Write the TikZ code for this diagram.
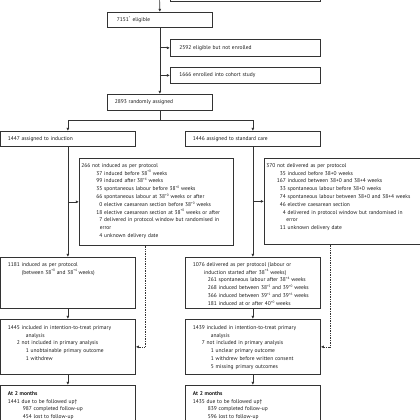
\documentclass[tikz,border=0pt]{standalone}
\usepackage{fontspec}
\setmainfont{PT Sans}
\usepackage{tikz}
\usetikzlibrary{positioning}
\usetikzlibrary{arrows.meta}

\newcommand{\sem}[1]{\raisebox{0.85ex}{\fontsize{3.4}{4}\selectfont #1}}
\newcommand{\cifra}[2]{\makebox[#1][r]{#2}\ }

\tikzset{
  caja/.style={draw=black!80, line width=0.7pt, anchor=north west, inner xsep=7.5pt, inner ysep=0pt, align=left, text=black!90, font=\fontsize{5.5}{7.8}\selectfont},
  lateral/.style={caja, inner xsep=2pt},
  arriba/.style={text height=9pt, text depth=#1},
  flecha/.style={-{Latex[length=3.2pt,width=3pt]}, draw=black!80, line width=0.7pt},
  punteada/.style={flecha, densely dotted}
}

\begin{document}
\begin{tikzpicture}[x=1pt, y=-1pt]
\useasboundingbox (0,0) rectangle (420,420);
\clip (0,0) rectangle (420,420);

% Cribado
\coordinate (entrada) at (159.5,-6);
\node[caja, text width=135pt, minimum height=30pt] (previo) at (170,-29) {};
\node[caja, text width=90pt, minimum height=15pt] (n7151) at (107,12) {\hspace*{2pt}7151\textsuperscript{*} eligible};
\node[caja, text width=135pt, minimum height=17pt] (n2592) at (170,39) {\hspace*{1.5pt}2592 eligible but not enrolled};
\node[caja, text width=135pt, minimum height=16pt] (n1666) at (170,67) {\hspace*{1.5pt}1666 enrolled into cohort study};
\node[caja, text width=90pt, minimum height=16pt] (n2893) at (107,94) {2893 randomly assigned};

\draw[flecha] (entrada) -- (n7151.north);
\draw[flecha] (n7151.south) -- (n2893.north);
\draw[flecha] (n7151.south |- n2592.west) -- (n2592.west);
\draw[flecha] (n7151.south |- n1666.west) -- (n1666.west);

% Asignacion
\node[caja, text width=120pt, minimum height=15pt] (n1447) at (0,131) {1447 assigned to induction};
\node[caja, text width=120pt, minimum height=15pt] (n1446) at (185,131) {1446 assigned to standard care};

\coordinate (reparto) at ([yshift=-10pt]n2893.south);
\draw[draw=black!80, line width=0.7pt] (n2893.south) -- (reparto);
\draw[flecha] (reparto) -| (n1447.north);
\draw[flecha] (reparto) -| (n1446.north);

% No segun protocolo
\node[lateral, text width=150pt, arriba=78pt] (n266) at (79,158) {266 not induced as per protocol\\
\cifra{21pt}{37}induced before 38\sem{+0} weeks\\
\cifra{21pt}{99}induced after 38\sem{+4} weeks\\
\cifra{21pt}{35}spontaneous labour before 38\sem{+0} weeks\\
\cifra{21pt}{66}spontaneous labour at 38\sem{+0} weeks or after\\
\cifra{21pt}{0}elective caesarean section before 38\sem{+0} weeks\\
\cifra{21pt}{18}elective caesarean section at 38\sem{+0} weeks or after\\
\cifra{21pt}{7}delivered in protocol window but randomised in\\
\hspace*{18.5pt}error\\
\cifra{21pt}{4}unknown delivery date};

\node[lateral, text width=157pt, arriba=77pt] (n370) at (264,158) {370 not delivered as per protocol\\
\cifra{19.5pt}{35}induced before 38+0 weeks\\
\cifra{19.5pt}{167}induced between 38+0 and 38+4 weeks\\
\cifra{19.5pt}{33}spontaneous labour before 38+0 weeks\\
\cifra{19.5pt}{74}spontaneous labour between 38+0 and 38+4 weeks\\
\cifra{19.5pt}{46}elective caesarean section\\
\cifra{19.5pt}{4}delivered in protocol window but randomised in\\
\hspace*{20pt}error\\
\cifra{19.5pt}{11}unknown delivery date};

\draw[flecha] (n1447.south |- n266.west) -- (n266.west);
\draw[flecha] (n1446.south |- n370.west) -- (n370.west);

% Segun protocolo
\node[caja, text width=120pt, arriba=42pt] (n1181) at (0,257) {1181 induced as per protocol\\
\hspace*{14pt}(between 38\sem{+0} and 38\sem{+4} weeks)};

\node[caja, text width=120pt, arriba=42pt] (n1076) at (185,257) {1076 delivered as per protocol (labour or\\
\hspace*{11pt}induction started after 38\sem{+4} weeks)\\
\cifra{24pt}{261}spontaneous labour after 38\sem{+4} weeks\\
\cifra{24pt}{268}induced between 38\sem{+5} and 39\sem{+0} weeks\\
\cifra{24pt}{366}induced between 39\sem{+1} and 39\sem{+6} weeks\\
\cifra{24pt}{181}induced at or after 40\sem{+0} weeks};

\draw[flecha] (n1447.south) -- (n1181.north);
\draw[flecha] (n1446.south) -- (n1076.north);

% Analisis
\node[caja, text width=120pt, arriba=45pt, text height=10pt] (n1445) at (0,319) {1445 included in intention-to-treat primary\\
\hspace*{18pt}analysis\\
\cifra{12pt}{2}not included in primary analysis\\
\hspace*{18pt}1 unobtainable primary outcome\\
\hspace*{18pt}1 withdrew};

\node[caja, text width=120pt, arriba=45pt, text height=10pt] (n1439) at (185,319) {1439 included in intention-to-treat primary\\
\hspace*{18pt}analysis\\
\cifra{12pt}{7}not included in primary analysis\\
\hspace*{18pt}1 unclear primary outcome\\
\hspace*{18pt}1 withdrew before written consent\\
\hspace*{18pt}5 missing primary outcomes};

\draw[flecha] (n1181.south) -- (n1445.north);
\draw[flecha] (n1076.south) -- (n1439.north);
\draw[punteada] ([xshift=-11pt]n266.south) |- (n1445.east);
\draw[punteada] ([xshift=66pt]n370.south west) |- (n1439.east);

% Seguimiento
\node[caja, text width=120pt, arriba=40pt, text height=10pt] (mesesI) at (0,385) {\textbf{At 2 months}\\
1441 due to be followed up\textdagger\\
\cifra{24pt}{987}completed follow-up\\
\cifra{24pt}{454}lost to follow-up};

\node[caja, text width=120pt, arriba=40pt, text height=10pt] (mesesE) at (185,385) {\textbf{At 2 months}\\
1435 due to be followed up\textdagger\\
\cifra{24pt}{839}completed follow-up\\
\cifra{24pt}{596}lost to follow-up};

\draw[flecha] (n1445.south) -- (mesesI.north);
\draw[flecha] (n1439.south) -- (mesesE.north);
\end{tikzpicture}
\end{document}
